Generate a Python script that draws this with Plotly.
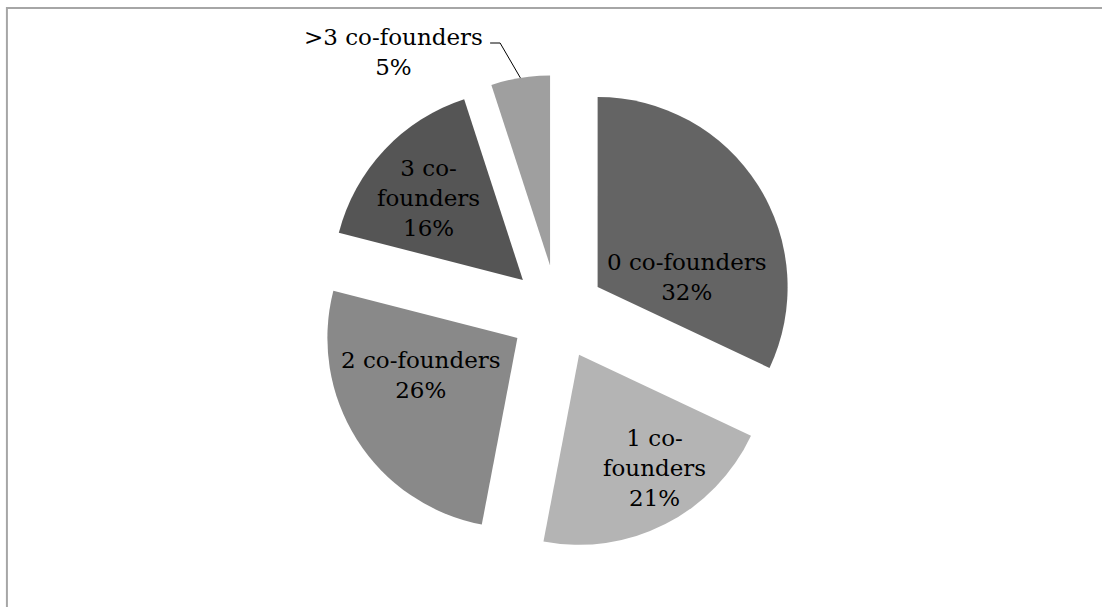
import math
import plotly.graph_objects as go

labels = ["0 co-founders", "1 co-founders", "2 co-founders", "3 co-founders", ">3 co-founders"]
wrapped = ["0 co-founders", "1 co-<br>founders", "2 co-founders", "3 co-<br>founders", ">3 co-founders"]
values = [32, 21, 26, 16, 5]
colors = ["#646464", "#b4b4b4", "#898989", "#555555", "#9f9f9f"]

# label placement (style): distance from slice tip in radius units, angle clockwise from 12 o'clock
label_dist = [0.477, 0.717, 0.546, 0.657]
label_angle = [83.6, 146.1, 249.1, 311.0]

FONT = "DejaVu Serif"
FS = 23
W, H = 1102, 607
ml, mr, mt, mb = 257.5, 244.5, 75, 57
PULL = 0.25

fig = go.Figure()
fig.add_trace(go.Pie(
    labels=labels,
    values=values,
    sort=False,
    direction="clockwise",
    rotation=0,
    pull=[PULL] * len(values),
    marker=dict(colors=colors, line=dict(width=0)),
    textinfo="none",
    hoverinfo="label+percent",
    showlegend=False,
))

pw, ph = W - ml - mr, H - mt - mb
cx, cy = ml + pw / 2, mt + ph / 2
r = min(pw, ph) / (2 + 2 * PULL)


def to_paper(px, py):
    return (px - ml) / pw, 1 - (py - mt) / ph


total = sum(values)
start = 0.0
tips = []
for i, v in enumerate(values):
    mid = start + v / total * 180.0
    a = math.radians(mid)
    tx, ty = cx + PULL * r * math.sin(a), cy - PULL * r * math.cos(a)
    tips.append((tx, ty, mid))
    start += v / total * 360.0

for i in range(4):
    tx, ty, _ = tips[i]
    a = math.radians(label_angle[i])
    lx, ly = tx + label_dist[i] * r * math.sin(a), ty - label_dist[i] * r * math.cos(a)
    px, py = to_paper(lx, ly)
    pct = round(values[i] / total * 100)
    fig.add_annotation(x=px, y=py, xref="paper", yref="paper",
                       xanchor="center", yanchor="middle",
                       text=f"{wrapped[i]}<br>{pct}%", showarrow=False, align="center",
                       font=dict(family=FONT, size=FS, color="black"))

# outside label with leader line for the smallest slice
tx, ty, mid = tips[4]
a = math.radians(mid)
ex, ey = tx + r * math.sin(a), ty - r * math.cos(a)
lab_x, lab_y = 393, 52
px, py = to_paper(lab_x, lab_y)
pct = round(values[4] / total * 100)
fig.add_annotation(x=px, y=py, xref="paper", yref="paper",
                   xanchor="center", yanchor="middle",
                   text=f"{wrapped[4]}<br>{pct}%", showarrow=False, align="center",
                   font=dict(family=FONT, size=FS, color="black"))
k0 = to_paper(490, 43)
k1 = to_paper(500, 43)
k2 = to_paper(ex, ey)
fig.add_shape(type="path", xref="paper", yref="paper",
              path=f"M {k0[0]},{k0[1]} L {k1[0]},{k1[1]} L {k2[0]},{k2[1]}",
              line=dict(color="black", width=1))

# chart frame
frame = dict(color="#a6a6a6", width=2)
f0 = to_paper(6, 8)
f1 = to_paper(W + 2, 8)
f2 = to_paper(6, H + 2)
fig.add_shape(type="path", xref="paper", yref="paper",
              path=f"M {f1[0]},{f1[1]} L {f0[0]},{f0[1]} L {f2[0]},{f2[1]}",
              line=frame)

fig.update_layout(
    width=W, height=H,
    margin=dict(l=ml, r=mr, t=mt, b=mb, autoexpand=False),
    paper_bgcolor="white", plot_bgcolor="white",
    font=dict(family=FONT),
)
fig.write_html("out.html", config={"displayModeBar": False},
               post_script="document.body.style.margin='0';")
